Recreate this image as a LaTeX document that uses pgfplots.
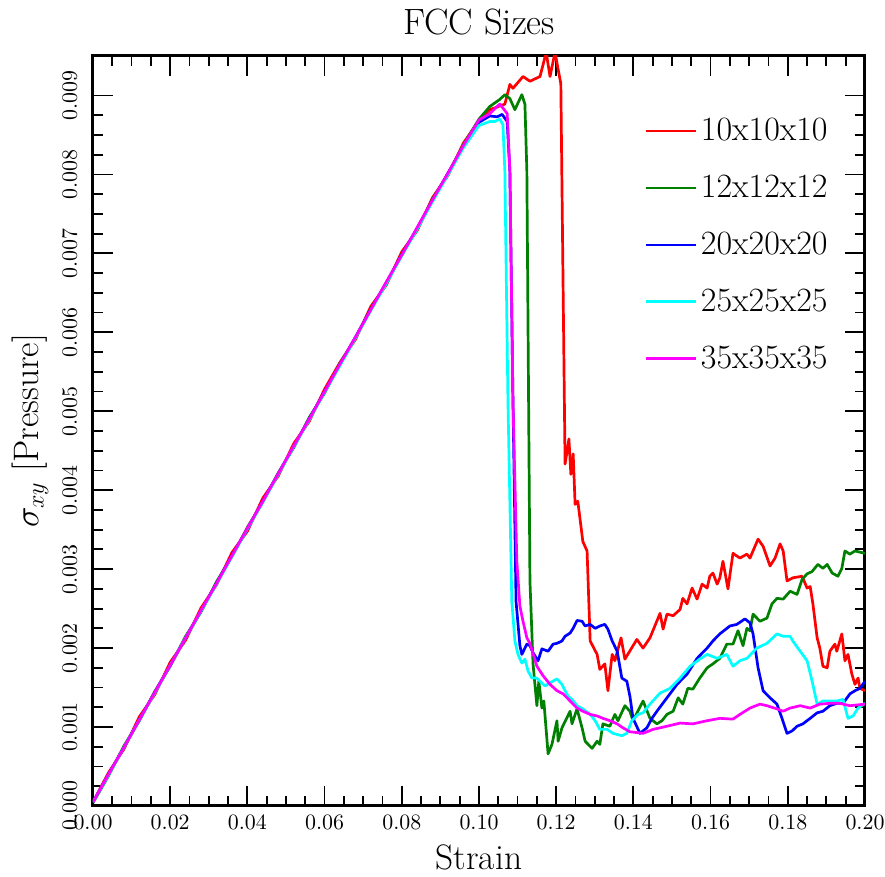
\documentclass[border=0pt]{standalone}
\usepackage{pgfplots}
\pgfplotsset{compat=1.18}
\definecolor{mplgreen}{RGB}{0,128,0}
\definecolor{mplcyan}{RGB}{0,255,255}
\definecolor{mplmagenta}{RGB}{255,0,255}
\begin{document}
\begin{tikzpicture}
\begin{axis}[
  scale only axis, width=386pt, height=375pt,
  xmin=0, xmax=0.2, ymin=0, ymax=0.0095,
  xtick={0,0.02,0.04,0.06,0.08,0.10,0.12,0.14,0.16,0.18,0.20},
  ytick={0,0.001,0.002,0.003,0.004,0.005,0.006,0.007,0.008,0.009},
  minor x tick num=3, minor y tick num=3,
  tick align=inside, xtick pos=both, ytick pos=both,
  major tick length=10pt, minor tick length=5pt,
  every tick/.style={black, line width=0.9pt},
  axis line style={line width=1.5pt},
  scaled x ticks=false, scaled y ticks=false,
  tick label style={font=\fontsize{11.1}{13}\selectfont},
  xticklabel style={/pgf/number format/.cd, fixed, fixed zerofill, precision=2},
  yticklabel style={rotate=90, anchor=south, /pgf/number format/.cd, fixed, fixed zerofill, precision=3},
  yticklabel shift=4.5pt, xticklabel shift=1pt,
  xlabel={Strain}, ylabel={$\sigma_{xy}$ [Pressure]},
  every axis x label/.style={at={([yshift=-25.75pt]axis description cs:0.5,0)}, anchor=center, font=\fontsize{17.7}{21}\selectfont},
  every axis y label/.style={at={([xshift=-31.5pt]axis description cs:0,0.5)}, rotate=90, anchor=center, font=\fontsize{17.7}{21}\selectfont},
  title={FCC Sizes},
  every axis title/.style={at={([yshift=17pt]axis description cs:0.5,1)}, anchor=center, font=\fontsize{18.3}{22}\selectfont},
  legend style={draw=none, fill=none, at={(0.965,0.928)}, anchor=north east,
    font=\fontsize{17}{20}\selectfont, row sep=11.7pt},
  legend cell align=left,
  legend image code/.code={\draw[#1] (-4pt,0pt) -- (21pt,0pt);},
  every axis plot/.append style={line width=1.35pt, line join=round},
]
\addplot[red] coordinates {
(0,0.00005)(0.004,0.00042)(0.008,0.00072)(0.012,0.00113)(0.016,0.00141)(0.02,0.00182)(0.024,0.00210)(0.028,0.00251)(0.032,0.00280)(0.036,0.00321)(0.04,0.00348)(0.044,0.00390)(0.048,0.00418)(0.052,0.00459)(0.056,0.00487)(0.06,0.00528)(0.064,0.00562)(0.068,0.00591)(0.072,0.00633)(0.076,0.00660)(0.08,0.00702)(0.084,0.00729)(0.088,0.00771)(0.092,0.00799)(0.096,0.00840)(0.1,0.00868)
(0.1028,0.00882)(0.1067,0.00889)(0.1080,0.00914)(0.1088,0.00909)(0.1114,0.00924)(0.1132,0.00918)(0.1158,0.00924)(0.1166,0.00939)(0.1174,0.00955)(0.1184,0.00924)(0.1197,0.00955)(0.1205,0.00933)(0.1212,0.00915)
(0.1223,0.00433)(0.1233,0.00465)(0.1238,0.00420)(0.1244,0.00446)(0.1249,0.00382)(0.1256,0.00386)(0.1269,0.00335)(0.1280,0.00323)(0.1288,0.00209)(0.1306,0.00192)(0.1313,0.00173)(0.1326,0.00180)(0.1334,0.00146)(0.1345,0.00192)(0.1352,0.00184)(0.1368,0.00213)(0.1378,0.00186)(0.1409,0.00211)(0.1425,0.00200)(0.1443,0.00213)(0.1469,0.00244)(0.1477,0.00224)(0.1487,0.00243)(0.1503,0.00241)(0.1521,0.00249)(0.1528,0.00263)(0.1539,0.00256)(0.1552,0.00276)(0.1565,0.00262)(0.1578,0.00281)(0.1591,0.00276)(0.1598,0.00291)(0.1606,0.00295)(0.1617,0.00281)(0.1624,0.00289)(0.1632,0.00310)(0.1645,0.00275)(0.1658,0.00320)(0.1676,0.00314)(0.1694,0.00319)(0.1702,0.00314)(0.1723,0.00338)(0.1736,0.00329)(0.1754,0.00304)(0.1767,0.00314)(0.1780,0.00332)(0.1788,0.00323)(0.1798,0.00285)(0.1813,0.00289)(0.1837,0.00291)(0.1850,0.00276)(0.1858,0.00278)(0.1865,0.00256)(0.1876,0.00213)(0.1883,0.00200)(0.1891,0.00177)(0.1902,0.00175)(0.1909,0.00196)(0.1922,0.00205)(0.1927,0.00196)(0.1940,0.00218)(0.1948,0.00184)(0.1956,0.00192)(0.1966,0.00167)(0.1974,0.00154)(0.1982,0.00162)(0.1987,0.00149)(0.2000,0.00146)
};
\addlegendentry{10x10x10}
\addplot[mplgreen] coordinates {
(0,0.00004)(0.004,0.00038)(0.008,0.00076)(0.012,0.00108)(0.016,0.00145)(0.02,0.00177)(0.024,0.00215)(0.028,0.00246)(0.032,0.00284)(0.036,0.00316)(0.04,0.00353)(0.044,0.00385)(0.048,0.00422)(0.052,0.00454)(0.056,0.00492)(0.06,0.00523)(0.064,0.00561)(0.068,0.00593)(0.072,0.00630)(0.076,0.00662)(0.08,0.00699)(0.084,0.00731)(0.088,0.00769)(0.092,0.00801)(0.096,0.00838)(0.1,0.00870)
(0.1028,0.00886)(0.1054,0.00895)(0.1067,0.00901)(0.1080,0.00896)(0.1093,0.00882)(0.1111,0.00901)(0.1119,0.00889)(0.1124,0.00804)(0.1132,0.00285)(0.1140,0.00180)(0.1150,0.00127)(0.1155,0.00158)(0.1163,0.00124)(0.1168,0.00133)(0.1179,0.00066)(0.1189,0.00078)(0.1202,0.00108)(0.1205,0.00082)(0.1215,0.00099)(0.1236,0.00120)(0.1241,0.00104)(0.1254,0.00123)(0.1267,0.00099)(0.1275,0.00082)(0.1293,0.00073)(0.1306,0.00082)(0.1313,0.00078)(0.1321,0.00104)(0.1339,0.00101)(0.1352,0.00116)(0.1360,0.00108)(0.1378,0.00127)(0.1391,0.00120)(0.1399,0.00108)(0.1425,0.00133)(0.1443,0.00111)(0.1461,0.00104)(0.1474,0.00108)(0.1487,0.00116)(0.1503,0.00120)(0.1516,0.00137)(0.1528,0.00129)(0.1541,0.00149)(0.1554,0.00148)(0.1572,0.00162)(0.1591,0.00175)(0.1606,0.00180)(0.1624,0.00187)(0.1642,0.00205)(0.1658,0.00205)(0.1671,0.00222)(0.1684,0.00203)(0.1694,0.00225)(0.1702,0.00222)(0.1710,0.00243)(0.1728,0.00234)(0.1746,0.00238)(0.1759,0.00256)(0.1772,0.00263)(0.1788,0.00262)(0.1806,0.00272)(0.1824,0.00268)(0.1837,0.00287)(0.1850,0.00294)(0.1863,0.00297)(0.1878,0.00306)(0.1891,0.00301)(0.1902,0.00306)(0.1915,0.00295)(0.1930,0.00291)(0.1940,0.00301)(0.1948,0.00323)(0.1961,0.00319)(0.1974,0.00323)(0.2000,0.00320)
};
\addlegendentry{12x12x12}
\addplot[blue] coordinates {
(0,0.00005)(0.004,0.00040)(0.008,0.00074)(0.012,0.00109)(0.016,0.00144)(0.02,0.00178)(0.024,0.00213)(0.028,0.00247)(0.032,0.00282)(0.036,0.00317)(0.04,0.00351)(0.044,0.00386)(0.048,0.00421)(0.052,0.00455)(0.056,0.00490)(0.06,0.00525)(0.064,0.00559)(0.068,0.00594)(0.072,0.00629)(0.076,0.00663)(0.08,0.00698)(0.084,0.00732)(0.088,0.00767)(0.092,0.00802)(0.096,0.00836)(0.1,0.00866)
(0.1028,0.00874)(0.1047,0.00873)(0.1060,0.00876)(0.1073,0.00867)(0.1080,0.00804)(0.1088,0.00513)(0.1096,0.00259)(0.1106,0.00203)(0.1111,0.00192)(0.1124,0.00205)(0.1132,0.00203)(0.1140,0.00194)(0.1153,0.00184)(0.1163,0.00199)(0.1179,0.00196)(0.1192,0.00205)(0.1202,0.00206)(0.1215,0.00209)(0.1223,0.00215)(0.1236,0.00219)(0.1244,0.00225)(0.1254,0.00235)(0.1267,0.00234)(0.1275,0.00228)(0.1288,0.00230)(0.1301,0.00225)(0.1313,0.00228)(0.1326,0.00230)(0.1334,0.00224)(0.1345,0.00209)(0.1358,0.00196)(0.1370,0.00162)(0.1383,0.00158)(0.1391,0.00139)(0.1399,0.00111)(0.1417,0.00092)(0.1435,0.00099)(0.1448,0.00111)(0.1461,0.00120)(0.1487,0.00137)(0.1513,0.00154)(0.1539,0.00167)(0.1565,0.00187)(0.1591,0.00200)(0.1606,0.00209)(0.1624,0.00218)(0.1650,0.00228)(0.1668,0.00230)(0.1689,0.00237)(0.1702,0.00232)(0.1710,0.00218)(0.1723,0.00175)(0.1736,0.00146)(0.1754,0.00137)(0.1772,0.00129)(0.1785,0.00111)(0.1798,0.00092)(0.1811,0.00095)(0.1824,0.00101)(0.1839,0.00104)(0.1858,0.00111)(0.1876,0.00118)(0.1891,0.00120)(0.1909,0.00127)(0.1927,0.00130)(0.1943,0.00130)(0.1961,0.00142)(0.1974,0.00146)(0.1987,0.00149)(0.2000,0.00158)
};
\addlegendentry{20x20x20}
\addplot[mplcyan] coordinates {
(0,0.00005)(0.004,0.00039)(0.008,0.00074)(0.012,0.00109)(0.016,0.00143)(0.02,0.00178)(0.024,0.00213)(0.028,0.00247)(0.032,0.00281)(0.036,0.00316)(0.04,0.00351)(0.044,0.00385)(0.048,0.00420)(0.052,0.00455)(0.056,0.00489)(0.06,0.00524)(0.064,0.00558)(0.068,0.00593)(0.072,0.00628)(0.076,0.00662)(0.08,0.00697)(0.084,0.00731)(0.088,0.00766)(0.092,0.00800)(0.096,0.00834)(0.1,0.00862)
(0.1028,0.00867)(0.1041,0.00867)(0.1054,0.00870)(0.1062,0.00863)(0.1067,0.00804)(0.1075,0.00513)(0.1085,0.00259)(0.1093,0.00209)(0.1101,0.00192)(0.1111,0.00181)(0.1119,0.00186)(0.1127,0.00171)(0.1137,0.00162)(0.1150,0.00162)(0.1158,0.00158)(0.1171,0.00152)(0.1184,0.00156)(0.1202,0.00161)(0.1215,0.00154)(0.1223,0.00146)(0.1231,0.00139)(0.1241,0.00135)(0.1254,0.00127)(0.1269,0.00123)(0.1288,0.00116)(0.1301,0.00108)(0.1313,0.00097)(0.1332,0.00097)(0.1347,0.00092)(0.1370,0.00089)(0.1383,0.00092)(0.1396,0.00108)(0.1412,0.00116)(0.1425,0.00118)(0.1443,0.00129)(0.1469,0.00143)(0.1495,0.00149)(0.1521,0.00162)(0.1547,0.00177)(0.1572,0.00186)(0.1591,0.00192)(0.1617,0.00187)(0.1642,0.00192)(0.1658,0.00177)(0.1676,0.00184)(0.1694,0.00187)(0.1720,0.00200)(0.1746,0.00206)(0.1772,0.00218)(0.1788,0.00215)(0.1806,0.00215)(0.1813,0.00209)(0.1832,0.00196)(0.1850,0.00184)(0.1863,0.00158)(0.1876,0.00129)(0.1891,0.00133)(0.1909,0.00133)(0.1927,0.00133)(0.1943,0.00135)(0.1956,0.00111)(0.1969,0.00114)(0.1982,0.00124)(0.2000,0.00130)
};
\addlegendentry{25x25x25}
\addplot[mplmagenta] coordinates {
(0,0.00005)(0.004,0.00040)(0.008,0.00074)(0.012,0.00109)(0.016,0.00144)(0.02,0.00178)(0.024,0.00213)(0.028,0.00248)(0.032,0.00282)(0.036,0.00317)(0.04,0.00352)(0.044,0.00386)(0.048,0.00421)(0.052,0.00456)(0.056,0.00490)(0.06,0.00525)(0.064,0.00560)(0.068,0.00594)(0.072,0.00629)(0.076,0.00664)(0.08,0.00698)(0.084,0.00733)(0.088,0.00768)(0.092,0.00802)(0.096,0.00837)(0.1,0.00869)
(0.1028,0.00877)(0.1047,0.00886)(0.1054,0.00889)(0.1062,0.00884)(0.1073,0.00877)(0.1075,0.00858)(0.1080,0.00804)(0.1088,0.00513)(0.1098,0.00310)(0.1106,0.00253)(0.1114,0.00234)(0.1124,0.00213)(0.1132,0.00206)(0.1150,0.00177)(0.1166,0.00165)(0.1184,0.00154)(0.1202,0.00146)(0.1218,0.00142)(0.1236,0.00133)(0.1254,0.00124)(0.1269,0.00120)(0.1288,0.00116)(0.1306,0.00114)(0.1321,0.00111)(0.1339,0.00108)(0.1358,0.00104)(0.1373,0.00099)(0.1391,0.00094)(0.1425,0.00092)(0.1451,0.00097)(0.1487,0.00101)(0.1521,0.00105)(0.1554,0.00104)(0.1591,0.00108)(0.1624,0.00111)(0.1658,0.00110)(0.1676,0.00116)(0.1702,0.00124)(0.1728,0.00129)(0.1746,0.00127)(0.1772,0.00123)(0.1788,0.00120)(0.1806,0.00124)(0.1832,0.00127)(0.1858,0.00124)(0.1883,0.00129)(0.1909,0.00130)(0.1935,0.00130)(0.1961,0.00127)(0.2000,0.00129)
};
\addlegendentry{35x35x35}
\end{axis}
\pgfresetboundingbox
\path[use as bounding box] ([xshift=-46.5pt,yshift=-35.5pt]current axis.south west) rectangle ([xshift=10pt,yshift=28pt]current axis.north east);
\end{tikzpicture}
\end{document}
